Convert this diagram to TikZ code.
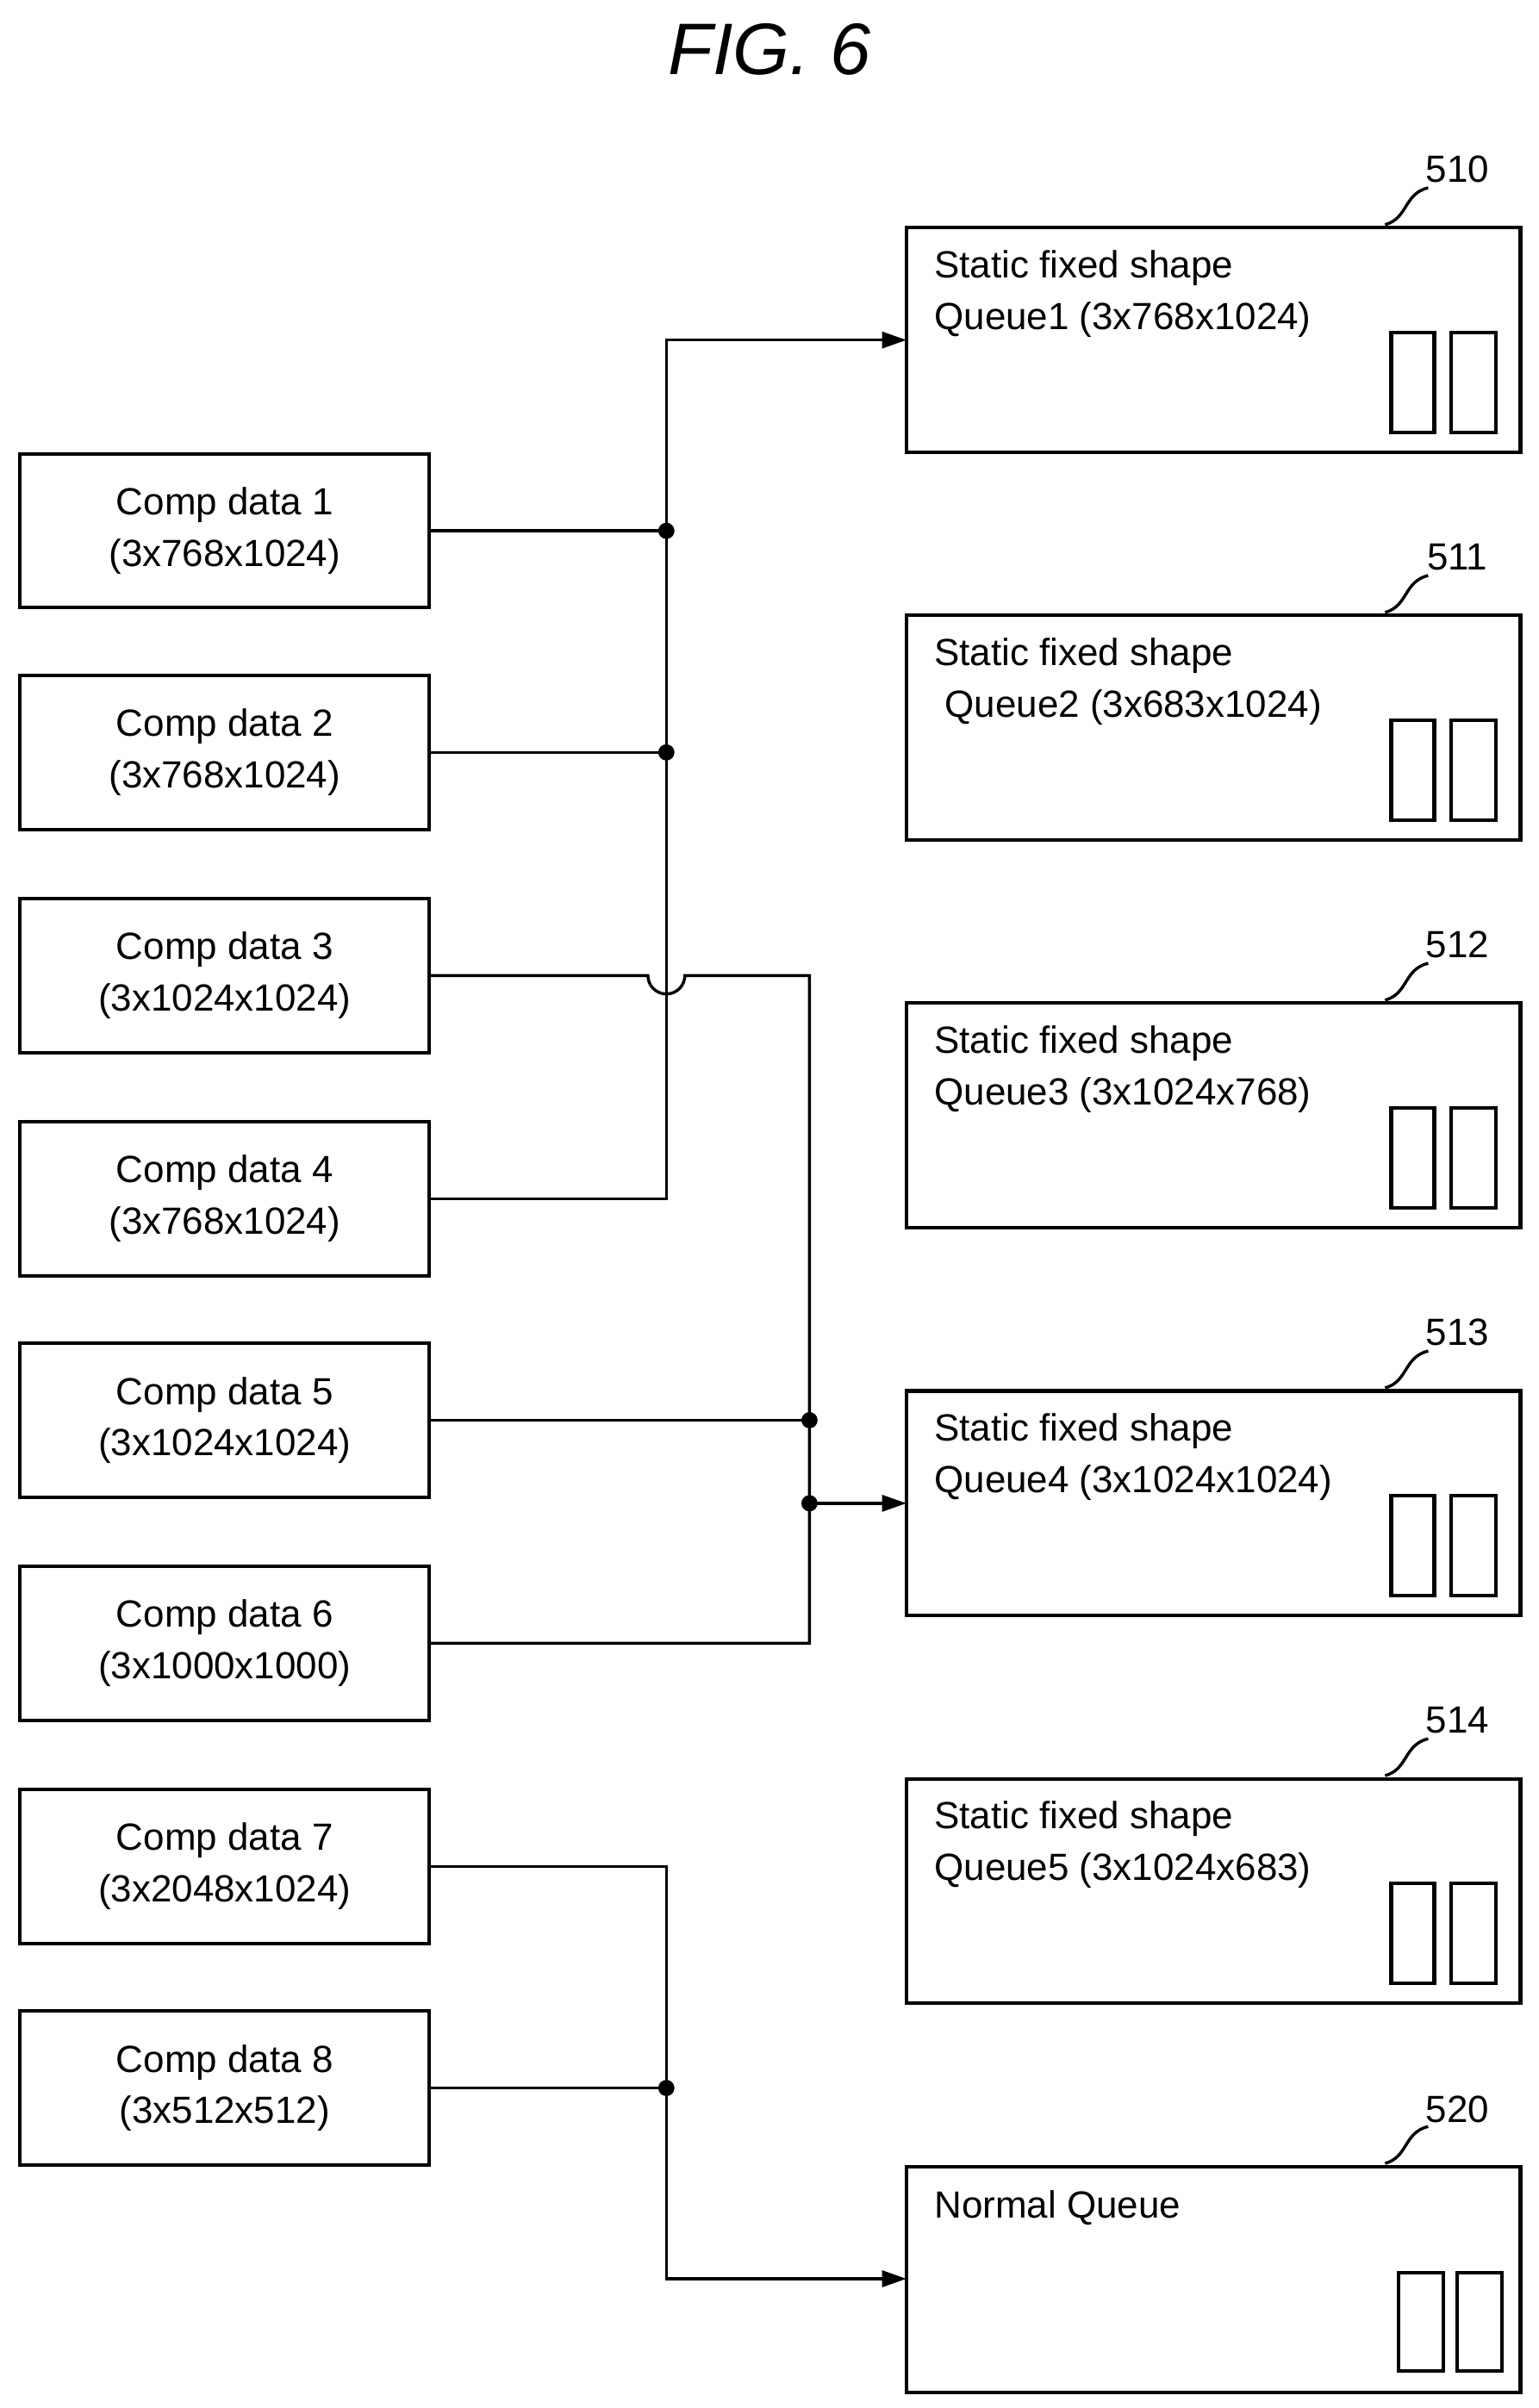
\documentclass[tikz,border=0pt]{standalone}
\usepackage{fontspec}
\setmainfont{Liberation Sans}
\usetikzlibrary{arrows.meta}
\begin{document}
\begin{tikzpicture}[x=0.02cm,y=-0.02cm,
  box/.style={draw,line width=1.3pt},
  ln/.style={line width=1.1pt},
  arr/.style={ln,-{Triangle[length=9pt,width=6pt]}},
  dot/.style={circle,fill,inner sep=0pt,minimum size=6pt},
  txt/.style={font=\fontsize{14}{19}\selectfont,align=center},
  rtxt/.style={font=\fontsize{14}{19}\selectfont,anchor=west,align=left},
  lbl/.style={font=\fontsize{14}{17}\selectfont}]
\useasboundingbox (0,0) rectangle (1000,1565);
\node[font=\itshape\fontsize{27}{30}\selectfont] (title) at (500,32) {FIG. 6};
% left boxes
\foreach \i/\y/\t in {1/295/{(3x768x1024)},2/439/{(3x768x1024)},3/584/{(3x1024x1024)},4/729/{(3x768x1024)},5/873/{(3x1024x1024)},6/1018/{(3x1000x1000)},7/1163/{(3x2048x1024)},8/1307/{(3x512x512)}}{
  \draw[box] (13,\y) rectangle (279,\y+100);
  \node[txt] (c\i) at (146,\y+50) {Comp data \i\\\t};
}
% right boxes
\foreach \n/\y/\a/\b in {510/148/{Static fixed shape}/{Queue1 (3x768x1024)},511/400/{Static fixed shape}/{\ Queue2 (3x683x1024)},512/652/{Static fixed shape}/{Queue3 (3x1024x768)},513/904/{Static fixed shape}/{Queue4 (3x1024x1024)},514/1156/{Static fixed shape}/{Queue5 (3x1024x683)}}{
  \draw[box] (589,\y) rectangle (988,\y+146);
  \node[rtxt] (q\n) at (601,\y+43) {\a\\\b};
  \draw[box] (904,\y+68) rectangle (932,\y+133);
  \draw[box] (943,\y+68) rectangle (972,\y+133);
  \node[lbl] (l\n) at (947,\y-38) {\n};
  \draw[ln] (900,\y-2) .. controls (915,\y-6) and (912,\y-22) .. (928,\y-26);
}
\draw[box] (589,1408) rectangle (988,1555);
\node[rtxt] (q520) at (601,1435) {Normal Queue};
\draw[box] (909,1477) rectangle (938,1541);
\draw[box] (947,1477) rectangle (976,1541);
\node[lbl] (l520) at (947,1371) {520};
\draw[ln] (900,1406) .. controls (915,1402) and (912,1386) .. (928,1382);
% group A
\coordinate (a1) at (433,345); \coordinate (a2) at (433,489);
\coordinate (atop) at (433,221); \coordinate (q1in) at (589,221);
\draw[ln] (279,345) -- (a1); \draw[ln] (279,489) -- (a2);
\draw[arr] (279,779) -- (433,779) -- (atop) -- (q1in);
\node[dot] at (a1) {}; \node[dot] at (a2) {};
% group B
\coordinate (b5) at (526,923); \coordinate (b6) at (526,977);
\draw[ln] (279,634) -- (421,634) arc[start angle=180,end angle=0,radius=12] -- (526,634) -- (526,1068) -- (279,1068);
\draw[ln] (279,923) -- (b5);
\draw[arr] (b6) -- (589,977);
\node[dot] at (b5) {}; \node[dot] at (b6) {};
% group C
\coordinate (c8j) at (433,1357);
\draw[arr] (279,1213) -- (433,1213) -- (433,1481) -- (589,1481);
\draw[ln] (279,1357) -- (c8j);
\node[dot] at (c8j) {};
\end{tikzpicture}
\end{document}
